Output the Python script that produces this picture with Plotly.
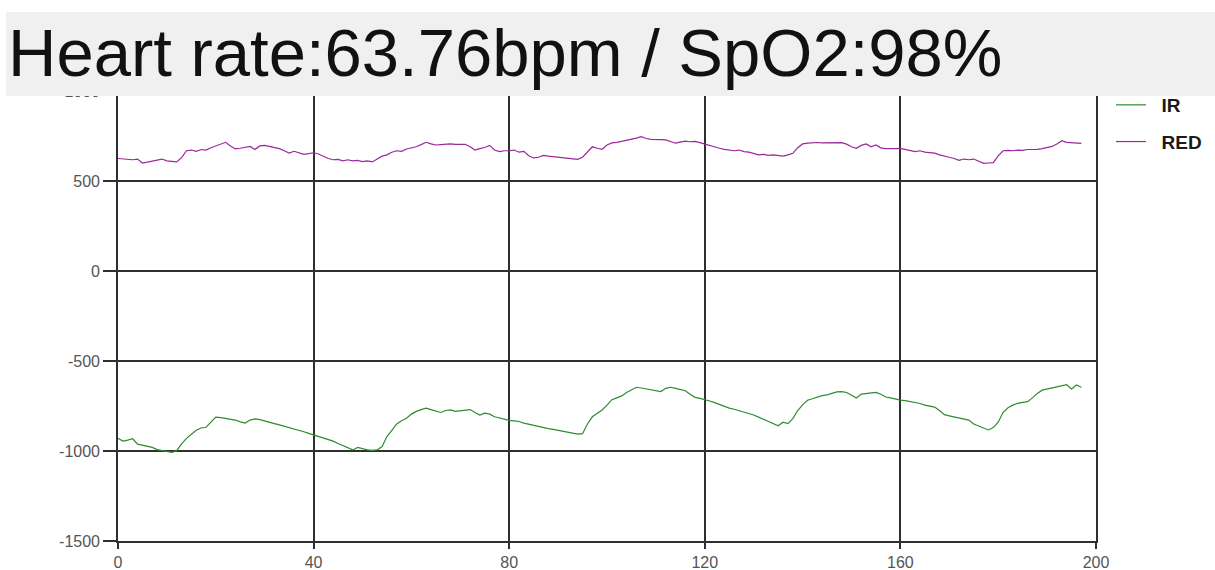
import plotly.graph_objects as go

# ---- data ----
sample_index = list(range(198))

ir_values = [
    -930, -945, -940, -932, -962, -968, -970, -980, -992, -998,
    -1005, -1008, -998, -960, -930, -905, -885, -872, -868, -840,
    -812, -815, -818, -822, -828, -838, -845, -828, -822, -826,
    -832, -842, -848, -855, -862, -868, -876, -885, -893, -902,
    -910, -918, -925, -935, -945, -958, -970, -985, -994, -980,
    -988, -994, -996, -994, -975, -920, -885, -850, -832, -818,
    -795, -780, -770, -762, -770, -778, -786, -775, -772, -780,
    -778, -774, -770, -786, -800, -790, -795, -810, -816, -826,
    -830, -833, -836, -845, -852, -858, -862, -870, -876, -880,
    -886, -892, -898, -902, -906, -904, -850, -810, -790, -772,
    -745, -715, -705, -694, -675, -660, -646, -650, -655, -658,
    -665, -670, -652, -646, -652, -658, -665, -685, -702, -708,
    -713, -722, -731, -742, -752, -762, -768, -776, -785, -791,
    -800, -812, -825, -837, -848, -860, -840, -848, -820, -775,
    -744, -718, -710, -700, -692, -688, -680, -672, -670, -675,
    -690, -706, -684, -680, -676, -674, -685, -700, -705, -712,
    -717, -720, -724, -728, -736, -745, -750, -756, -775, -798,
    -805, -810, -818, -822, -828, -850, -862, -872, -883, -870,
    -840, -785, -760, -745, -735, -730, -726, -705, -680, -662,
    -656, -650, -646, -640, -632, -655, -633, -646,
]

red_values = [
    625, 622, 620, 618, 622, 600, 605, 610, 615, 622,
    612, 608, 606, 630, 668, 672, 665, 675, 672, 685,
    695, 705, 715, 695, 678, 682, 685, 692, 675, 695,
    698, 692, 688, 680, 668, 655, 665, 658, 648, 652,
    657, 650, 638, 625, 618, 620, 612, 618, 612, 615,
    608, 612, 606, 620, 638, 645, 660, 668, 665, 678,
    682, 690, 702, 715, 706, 700, 702, 705, 706, 704,
    706, 704, 690, 672, 680, 686, 698, 672, 663, 668,
    668, 672, 660, 665, 640, 628, 632, 642, 638, 635,
    630, 628, 625, 622, 620, 632, 660, 690, 682, 676,
    700, 712, 715, 720, 725, 732, 738, 746, 736, 731,
    732, 730, 728, 718, 710, 716, 722, 718, 720, 713,
    705, 695, 688, 682, 676, 672, 668, 672, 663, 660,
    652, 645, 648, 642, 645, 640, 638, 645, 654, 685,
    706, 710, 713, 714, 712, 713, 715, 712, 713, 705,
    690, 682, 698, 706, 690, 700, 684, 680, 682, 680,
    681, 675, 670, 663, 668, 660, 658, 655, 645, 640,
    632, 625, 615, 622, 618, 622, 612, 598, 600, 602,
    640, 668, 670, 668, 672, 670, 675, 674, 676, 680,
    684, 692, 705, 724, 715, 712, 708, 709,
]

series_names = ["IR", "RED"]
series_colors = ["#2e8b2e", "#9b289b"]

x_tick_values = [0, 40, 80, 120, 160, 200]
y_tick_values = [-1500, -1000, -500, 0, 500, 1000]

title_text = "Heart rate:63.76bpm / SpO2:98%"

# ---- layout geometry (pixels) ----
W, H = 1215, 570
L, R, T, B = 118, 119, 91, 29
plot_w = W - L - R
plot_h = H - T - B


def px_to_paper_x(px):
    return (px - L) / plot_w


def py_to_paper_y(py):
    return 1 - (py - T) / plot_h


fig = go.Figure()
for name, vals, col in zip(series_names, [ir_values, red_values], series_colors):
    fig.add_trace(go.Scatter(
        x=sample_index, y=vals, mode="lines",
        name="\u00a0\u00a0<b>" + name + "</b>",
        line=dict(color=col, width=1.2), legendgroup=name,
    ))

grid_col = "#2f2f2f"
tick_font = dict(family="Liberation Sans, Arial, sans-serif", size=16, color="#555555")

fig.update_layout(
    width=W, height=H,
    margin=dict(l=L, r=R, t=T, b=B, pad=0, autoexpand=False),
    paper_bgcolor="white", plot_bgcolor="white",
    showlegend=True,
    legend=dict(
        x=px_to_paper_x(1111), xanchor="left",
        y=py_to_paper_y(86), yanchor="top",
        bgcolor="rgba(0,0,0,0)",
        font=dict(family="Liberation Sans, Arial, sans-serif", size=19, color="#1a1a1a"),
        traceorder="grouped", tracegroupgap=9,
    ),
    xaxis=dict(
        range=[0, 200], tickvals=x_tick_values, ticktext=[str(v) for v in x_tick_values],
        showgrid=True, gridcolor=grid_col, gridwidth=1.6,
        showline=True, linecolor=grid_col, linewidth=1.6,
        ticks="outside", ticklen=6, tickcolor=grid_col, tickwidth=1.6,
        tickfont=tick_font, zeroline=False, fixedrange=True,
    ),
    yaxis=dict(
        range=[-1500, 1000], tickvals=y_tick_values, ticktext=[str(v) for v in y_tick_values],
        showgrid=True, gridcolor=grid_col, gridwidth=1.6,
        showline=True, linecolor=grid_col, linewidth=1.6, mirror=True,
        ticks="outside", ticklen=13, tickcolor=grid_col, tickwidth=1.6,
        tickfont=tick_font, zeroline=False, fixedrange=True,
    ),
)

# gray title band that overlaps the top of the plot
fig.add_shape(
    type="rect", xref="paper", yref="paper", layer="above",
    x0=px_to_paper_x(6), x1=px_to_paper_x(1215),
    y0=py_to_paper_y(96), y1=py_to_paper_y(12),
    fillcolor="#f0f0f0", line=dict(width=0),
)

fig.add_annotation(
    text=title_text, xref="paper", yref="paper",
    x=px_to_paper_x(6), y=py_to_paper_y(52), xanchor="left", yanchor="middle",
    showarrow=False,
    font=dict(family="Liberation Sans, Arial, sans-serif", size=67, color="#111111"),
)

fig.write_html(
    "out.html",
    config={"displayModeBar": False},
    post_script="document.body.style.margin='0';document.body.style.overflow='hidden';",
)
